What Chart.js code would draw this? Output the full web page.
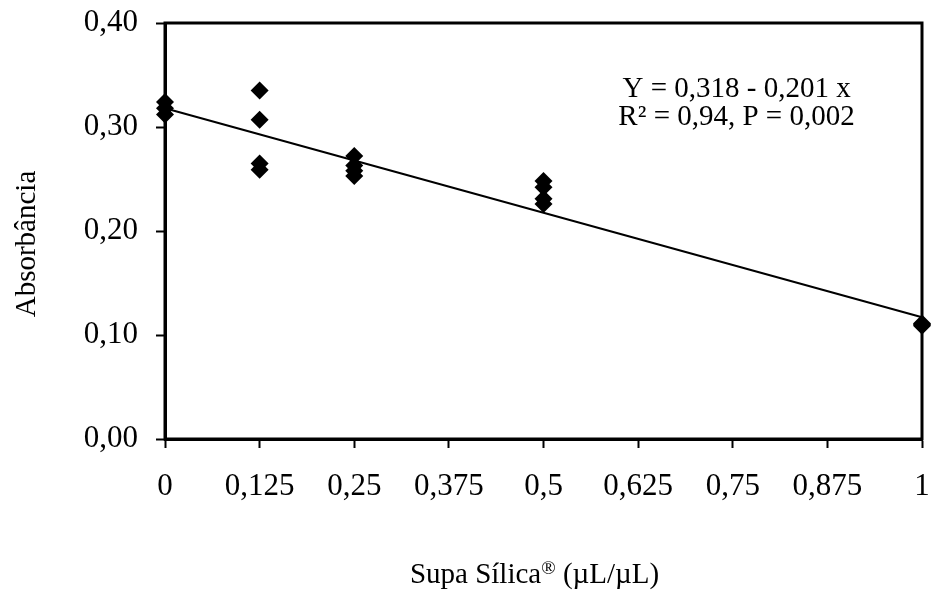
<!DOCTYPE html>
<html>
<head>
<meta charset="utf-8">
<script src="https://cdn.jsdelivr.net/npm/chart.js@4.4.0/dist/chart.umd.min.js"></script>
<style>
  html, body { margin: 0; padding: 0; background: #fff; }
  #wrap { width: 933px; height: 593px; }
</style>
</head>
<body>
<div id="wrap"><canvas id="absorb_chart"></canvas></div>
<script>
// observed points (dose, absorbance)
var doseX = [0, 0, 0,
             0.125, 0.125, 0.125, 0.125,
             0.25, 0.25, 0.25, 0.25,
             0.5, 0.5, 0.5, 0.5,
             1, 1, 1];
var absorbance = [0.324, 0.318, 0.312,
                  0.335, 0.307, 0.265, 0.259,
                  0.272, 0.263, 0.258, 0.253,
                  0.248, 0.242, 0.231, 0.226,
                  0.111, 0.110, 0.109];

// regression Y = a + b x
var intercept = 0.318;
var slope = -0.201;
var lineX = [0, 1];

var xTickLabels = ['0', '0,125', '0,25', '0,375', '0,5', '0,625', '0,75', '0,875', '1'];
var yTickLabels = ['0,00', '0,10', '0,20', '0,30', '0,40'];
var equationLines = ['Y = 0,318 - 0,201 x', 'R\u00b2 = 0,94, P = 0,002'];
var xTitleParts = ['Supa S\u00edlica', '\u00ae', ' (\u00b5L/\u00b5L)'];
var yTitle = 'Absorb\u00e2ncia';

var serif = "'Liberation Serif', 'Times New Roman', serif";

var points = doseX.map(function (x, i) { return { x: x, y: absorbance[i] }; });
var trend = lineX.map(function (x) { return { x: x, y: intercept + slope * x }; });

// box around the plot area
var frame = {
    id: 'frame',
    beforeDatasetsDraw: function (chart) {
        var a = chart.chartArea, ctx = chart.ctx;
        ctx.save();
        ctx.strokeStyle = '#000';
        ctx.lineWidth = 3;
        ctx.strokeRect(a.left, a.top, a.right - a.left, a.bottom - a.top);
        ctx.restore();
    }
};

// equation text, placed with the scales
var equation = {
    id: 'equation',
    afterDatasetsDraw: function (chart) {
        var ctx = chart.ctx;
        var xs = chart.scales.x, ys = chart.scales.y;
        var cx = xs.getPixelForValue(0.755);
        ctx.save();
        ctx.fillStyle = '#000';
        ctx.font = '29px ' + serif;
        ctx.textAlign = 'center';
        ctx.textBaseline = 'middle';
        ctx.fillText(equationLines[0], cx, ys.getPixelForValue(0.336));
        ctx.fillText(equationLines[1], cx, ys.getPixelForValue(0.309));
        ctx.restore();
    }
};

// axis titles (x title has a raised small ®)
var titles = {
    id: 'titles',
    afterDraw: function (chart) {
        var a = chart.chartArea, ctx = chart.ctx;
        ctx.save();
        ctx.fillStyle = '#000';
        ctx.textBaseline = 'alphabetic';
        ctx.textAlign = 'left';
        var big = '29px ' + serif, small = '19px ' + serif;
        ctx.font = big;
        var w0 = ctx.measureText(xTitleParts[0]).width;
        var w2 = ctx.measureText(xTitleParts[2]).width;
        ctx.font = small;
        var w1 = ctx.measureText(xTitleParts[1]).width;
        var x = (a.left + a.right) / 2 - 9 - (w0 + w1 + w2) / 2;
        var base = chart.height - 10;
        ctx.font = big;
        ctx.fillText(xTitleParts[0], x, base);
        ctx.font = small;
        ctx.fillText(xTitleParts[1], x + w0, base - 9);
        ctx.font = big;
        ctx.fillText(xTitleParts[2], x + w0 + w1, base);

        ctx.translate(35, (a.top + a.bottom) / 2 + 13);
        ctx.rotate(-Math.PI / 2);
        ctx.textAlign = 'center';
        ctx.fillText(yTitle, 0, 0);
        ctx.restore();
    }
};

var ctx = document.getElementById('absorb_chart').getContext('2d');
var chart = new Chart(ctx, {
    type: 'scatter',
    data: {
        datasets: [{
            data: points,
            pointStyle: 'rectRot',
            pointRadius: 9,
            backgroundColor: '#000',
            borderColor: '#000',
            borderWidth: 0,
            clip: false
        }, {
            type: 'line',
            data: trend,
            borderColor: '#000',
            borderWidth: 2,
            pointRadius: 0,
            fill: false,
            clip: false
        }]
    },
    options: {
        responsive: true,
        maintainAspectRatio: false,
        animation: false,
        layout: { padding: { top: 23, right: 11, left: 0, bottom: 0 } },
        plugins: {
            legend: { display: false },
            tooltip: { enabled: false }
        },
        scales: {
            x: {
                type: 'linear',
                min: 0,
                max: 1,
                afterFit: function (scale) {
                    scale.height = 154;
                    scale.paddingLeft = 0;
                    scale.paddingRight = 0;
                },
                border: { display: true, color: '#000', width: 3 },
                grid: { drawOnChartArea: false, tickLength: 9, tickColor: '#000', tickWidth: 2 },
                ticks: {
                    stepSize: 0.125,
                    autoSkip: false,
                    maxRotation: 0,
                    padding: 20,
                    color: '#000',
                    font: { family: serif, size: 31 },
                    callback: function (v, i) { return xTickLabels[i]; }
                },
                title: { display: false }
            },
            y: {
                min: 0,
                max: 0.4,
                afterFit: function (scale) {
                    scale.width = 165;
                    scale.paddingTop = 0;
                    scale.paddingBottom = 0;
                },
                border: { display: true, color: '#000', width: 3 },
                grid: { drawOnChartArea: false, tickLength: 9, tickColor: '#000', tickWidth: 2 },
                ticks: {
                    stepSize: 0.1,
                    padding: 18,
                    color: '#000',
                    font: { family: serif, size: 31 },
                    callback: function (v, i) { return yTickLabels[i]; }
                },
                title: { display: false }
            }
        }
    },
    plugins: [frame, equation, titles]
});
</script>
</body>
</html>
